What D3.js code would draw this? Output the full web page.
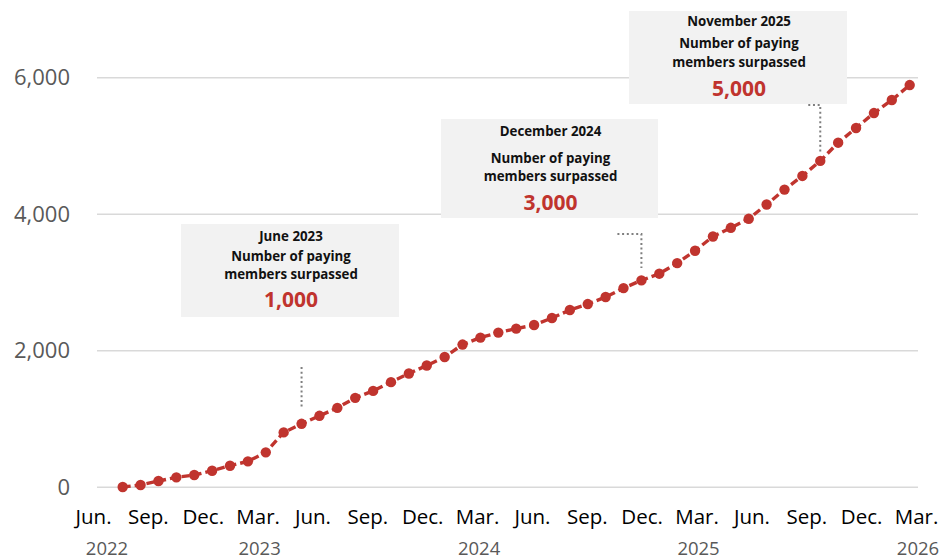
<!DOCTYPE html>
<html>
<head>
<meta charset="utf-8">
<script src="https://cdn.jsdelivr.net/npm/d3@7"></script>
<style>
  body { margin: 0; background: #fff; }
  svg { display: block; }
  text { font-family: "Open Sans", "Noto Sans", sans-serif; }
</style>
</head>
<body>
<svg id="chart"></svg>
<script>
// months of the series, one point per month
var months = [
  "2022-07","2022-08","2022-09","2022-10","2022-11","2022-12",
  "2023-01","2023-02","2023-03","2023-04","2023-05","2023-06",
  "2023-07","2023-08","2023-09","2023-10","2023-11","2023-12",
  "2024-01","2024-02","2024-03","2024-04","2024-05","2024-06",
  "2024-07","2024-08","2024-09","2024-10","2024-11","2024-12",
  "2025-01","2025-02","2025-03","2025-04","2025-05","2025-06",
  "2025-07","2025-08","2025-09","2025-10","2025-11","2025-12",
  "2026-01","2026-02","2026-03"
];
// paying members
var members = [
  5, 34, 92, 146, 180, 243, 316, 380, 512, 804, 930, 1047,
  1164, 1310, 1412, 1540, 1667, 1784, 1909, 2091, 2193, 2266, 2325, 2377,
  2480, 2597, 2684, 2787, 2918, 3031, 3129, 3284, 3465, 3674, 3801, 3933,
  4142, 4361, 4561, 4781, 5048, 5263, 5482, 5673, 5892
];
var yTicks = [0, 2000, 4000, 6000];
var tickKeys = ["2022-06","2022-09","2022-12","2023-03","2023-06","2023-09","2023-12","2024-03",
                "2024-06","2024-09","2024-12","2025-03","2025-06","2025-09","2025-12","2026-03"];
var tickLabels = ["Jun.","Sep.","Dec.","Mar.","Jun.","Sep.","Dec.","Mar.",
                  "Jun.","Sep.","Dec.","Mar.","Jun.","Sep.","Dec.","Mar."];
var yearKeys = ["2022-06","2023-03","2024-03","2025-03","2026-03"];
var yearLabels = ["2022","2023","2024","2025","2026"];

var noteMonths = ["2023-05","2024-12","2025-10"];
var noteTitles = ["June 2023","December 2024","November 2025"];
var noteValues = ["1,000","3,000","5,000"];

var width = 942, height = 559;
var red = "#c0342e";

var svg = d3.select("#chart").attr("width", width).attr("height", height);

var x = d3.scalePoint().domain(months).range([122.7, 909.7]);
var y = d3.scaleLinear().domain([0, 6000]).range([487.3, 77.7]);
var xt = d3.scalePoint().domain(tickKeys).range([93, 916]);

// gridlines
svg.append("g").selectAll("line")
    .data(yTicks)
  .enter().append("line")
    .attr("x1", 97).attr("x2", 918)
    .attr("y1", d => y(d)).attr("y2", d => y(d))
    .attr("stroke", "#d9d9d9")
    .attr("stroke-width", 1.5);

// y axis labels
var yAxis = svg.append("g")
    .attr("transform", "translate(70,0)")
    .call(d3.axisLeft(y).tickValues(yTicks).tickSize(0).tickPadding(0).tickFormat(d3.format(",")));
yAxis.select(".domain").remove();
yAxis.selectAll("text")
    .attr("font-size", "22px")
    .attr("fill", "#595959")
    .style("font-family", "'Open Sans', sans-serif");

// x axis labels
var xAxis = svg.append("g")
    .attr("transform", "translate(0,509)")
    .call(d3.axisBottom(xt).tickSize(0).tickPadding(0).tickFormat((d, i) => tickLabels[i]));
xAxis.select(".domain").remove();
xAxis.selectAll("text")
    .attr("dy", "0.71em")
    .attr("font-size", "20.5px")
    .attr("fill", "#000")
    .style("font-family", "'Open Sans', sans-serif");

svg.append("g").selectAll("text")
    .data(yearKeys)
  .enter().append("text")
    .attr("x", (d, i) => xt(d) + (i === 0 ? 14 : 2))
    .attr("y", 555)
    .attr("text-anchor", "middle")
    .attr("font-size", "18.5px")
    .attr("fill", "#595959")
    .text((d, i) => yearLabels[i]);

// annotation boxes (layout only)
var boxes = [
  {x: 181, y: 224, w: 218, h: 93, lines: [17, 36.5, 55, 82.5], top: 367, bottom: 408, elbow: 0},
  {x: 441, y: 119, w: 217, h: 99, lines: [16.6, 43.5, 61.8, 90.5], top: 234, bottom: 268, elbow: 24},
  {x: 629, y: 11, w: 218, h: 93, lines: [15, 36.6, 56, 85], top: 105, bottom: 152, elbow: 12}
];

var notes = svg.append("g").selectAll("g")
    .data(noteMonths)
  .enter().append("g");

notes.append("rect")
    .attr("x", (d, i) => boxes[i].x)
    .attr("y", (d, i) => boxes[i].y)
    .attr("width", (d, i) => boxes[i].w)
    .attr("height", (d, i) => boxes[i].h)
    .attr("fill", "#f2f2f2");

notes.each(function(d, i) {
  var g = d3.select(this), b = boxes[i];
  var cx = b.x + b.w / 2 + 1;
  var rows = [noteTitles[i], "Number of paying", "members surpassed"];
  rows.forEach((t, k) => {
    g.append("text")
      .attr("x", cx).attr("y", b.y + b.lines[k])
      .attr("text-anchor", "middle")
      .attr("font-size", "13.3px")
      .attr("font-weight", 700)
      .attr("fill", "#111")
      .text(t);
  });
  g.append("text")
    .attr("x", cx).attr("y", b.y + b.lines[3])
    .attr("text-anchor", "middle")
    .attr("font-size", "21px")
    .attr("font-weight", 700)
    .attr("fill", red)
    .text(noteValues[i]);

  // dotted leader
  var lx = x(d);
  var pts = [[lx - b.elbow, b.top], [lx, b.top], [lx, b.bottom]];
  g.append("path")
    .attr("d", d3.line()(pts))
    .attr("fill", "none")
    .attr("stroke", "#7f7f7f")
    .attr("stroke-width", 2)
    .attr("stroke-dasharray", "2,2.7");
});

// series line
var line = d3.line()
    .x((d, i) => x(months[i]))
    .y(d => y(d));

svg.append("path")
    .datum(members)
    .attr("d", line)
    .attr("fill", "none")
    .attr("stroke", red)
    .attr("stroke-width", 3.4)
    .attr("stroke-dasharray", "8,4");

svg.append("g").selectAll("circle")
    .data(members)
  .enter().append("circle")
    .attr("cx", (d, i) => x(months[i]))
    .attr("cy", d => y(d))
    .attr("r", 5.2)
    .attr("fill", red);
</script>
</body>
</html>
